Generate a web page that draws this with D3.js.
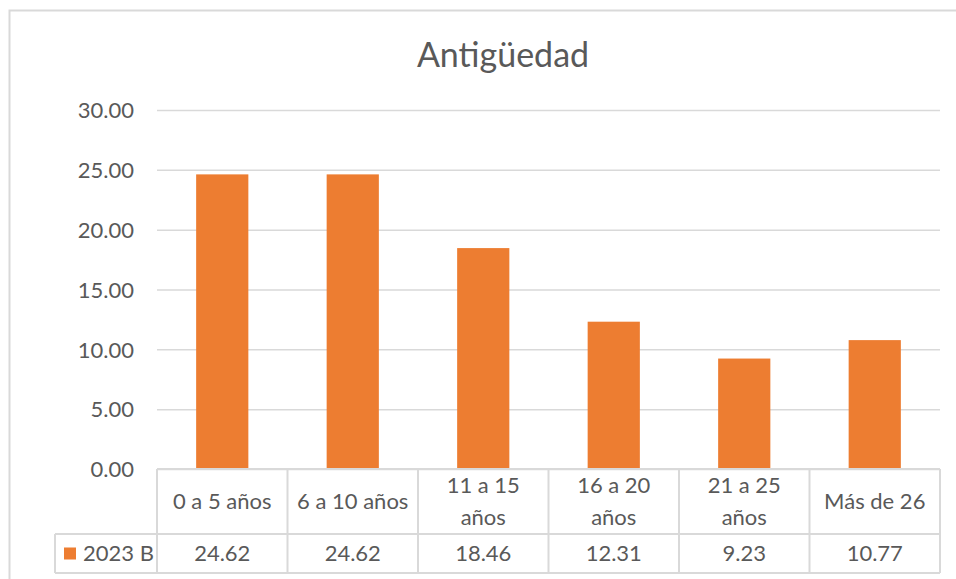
<!DOCTYPE html>
<html>
<head>
<meta charset="utf-8">
<script src="https://cdn.jsdelivr.net/npm/d3@7"></script>
<style>
  body { margin: 0; background: #fff; }
  text { font-family: Lato, "Open Sans", sans-serif; fill: #595959; }
</style>
</head>
<body>
<div class="viz"></div>
<script>
const categories = [['0 a 5 años'], ['6 a 10 años'], ['11 a 15', 'años'], ['16 a 20', 'años'], ['21 a 25', 'años'], ['Más de 26']]
const values = [24.62, 24.62, 18.46, 12.31, 9.23, 10.77]
const seriesName = '2023 B'
const yTicks = [0, 5, 10, 15, 20, 25, 30]

const width = 956
const height = 579
const plot = {left: 157, right: 940, top: 110, bottom: 469}
const tableRow1 = 534
const tableRow2 = 573
const legendLeft = 55
const orange = '#ED7D31'
const gridColor = '#d9d9d9'

const svg = d3.select('.viz').append('svg')
  .attr('width', width)
  .attr('height', height)

// outer chart frame
svg.append('path')
  .attr('d', `M9.5,${height}V10.5H${width}`)
  .attr('fill', 'none')
  .attr('stroke', gridColor)
  .attr('stroke-width', 2)

svg.append('text')
  .attr('x', 503)
  .attr('y', 67)
  .attr('text-anchor', 'middle')
  .style('font-size', '34px')
  .text('Antigüedad')

const x = d3.scaleBand()
  .domain(d3.range(categories.length))
  .range([plot.left, plot.right])

const y = d3.scaleLinear()
  .domain([0, 30])
  .range([plot.bottom, plot.top])

// gridlines + labels
const yAxis = d3.axisLeft(y)
  .tickValues(yTicks)
  .tickFormat(d3.format('.2f'))
  .tickSize(-(plot.right - plot.left))
  .tickPadding(23)

const ga = svg.append('g')
  .attr('transform', `translate(${plot.left},0)`)
  .call(yAxis)
ga.select('.domain').remove()
ga.selectAll('.tick line').attr('stroke', gridColor).attr('stroke-width', 1.5)
ga.selectAll('.tick text')
  .attr('fill', '#595959')
  .style('font-family', 'Lato, sans-serif')
  .style('font-size', '22px')
  .attr('dy', '0.35em')

// bars
const bw = x.bandwidth() * 0.4
svg.append('g')
  .selectAll('rect')
  .data(values)
  .join('rect')
  .attr('x', (d, i) => x(i) + (x.bandwidth() - bw) / 2)
  .attr('y', d => y(d))
  .attr('width', bw)
  .attr('height', d => y(0) - y(d))
  .attr('fill', orange)

// data table
const table = svg.append('g')
  .attr('fill', 'none')
  .attr('stroke', gridColor)
  .attr('stroke-width', 2)

table.append('line').attr('x1', plot.left).attr('x2', plot.right).attr('y1', plot.bottom).attr('y2', plot.bottom)
table.append('line').attr('x1', legendLeft).attr('x2', plot.right).attr('y1', tableRow1).attr('y2', tableRow1)
table.append('line').attr('x1', legendLeft).attr('x2', plot.right).attr('y1', tableRow2).attr('y2', tableRow2)
table.append('line').attr('x1', legendLeft).attr('x2', legendLeft).attr('y1', tableRow1).attr('y2', tableRow2)
table.selectAll('.col')
  .data(d3.range(categories.length + 1))
  .join('line')
  .attr('x1', i => i < categories.length ? x(i) : plot.right)
  .attr('x2', i => i < categories.length ? x(i) : plot.right)
  .attr('y1', plot.bottom)
  .attr('y2', tableRow2)

const headMid = (plot.bottom + tableRow1) / 2
const cat = svg.append('g')
  .selectAll('text')
  .data(categories)
  .join('text')
  .attr('text-anchor', 'middle')
  .style('font-size', '22px')
  .attr('x', (d, i) => x(i) + x.bandwidth() / 2)
  .attr('y', d => headMid - (d.length - 1) * 16)
cat.selectAll('tspan')
  .data(d => d)
  .join('tspan')
  .attr('x', function () { return this.parentNode.getAttribute('x') })
  .attr('dy', (d, i) => i === 0 ? '0.35em' : 32)
  .text(d => d)

const valMid = (tableRow1 + tableRow2) / 2
svg.append('g')
  .selectAll('text')
  .data(values)
  .join('text')
  .attr('text-anchor', 'middle')
  .style('font-size', '22px')
  .attr('x', (d, i) => x(i) + x.bandwidth() / 2)
  .attr('y', valMid)
  .attr('dy', '0.35em')
  .text(d => d3.format('.2f')(d))

// legend key in table
svg.append('rect')
  .attr('x', 64)
  .attr('y', valMid - 6)
  .attr('width', 12)
  .attr('height', 12)
  .attr('fill', orange)
svg.append('text')
  .attr('x', 83)
  .attr('y', valMid)
  .attr('dy', '0.35em')
  .style('font-size', '22px')
  .text(seriesName)
</script>
</body>
</html>
